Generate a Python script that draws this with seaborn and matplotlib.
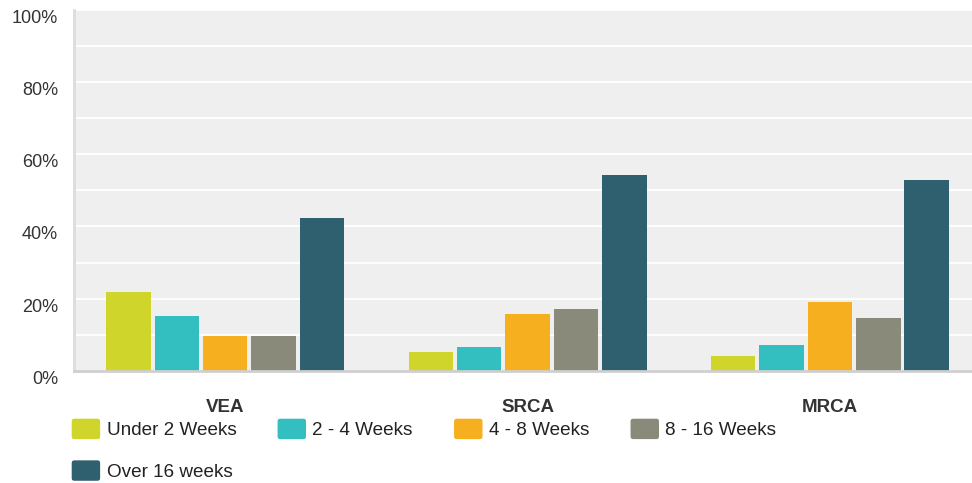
import matplotlib
matplotlib.use("Agg")
import matplotlib.pyplot as plt
from matplotlib.patches import Patch, FancyBboxPatch
from matplotlib.legend_handler import HandlerPatch
from matplotlib.ticker import MultipleLocator, FuncFormatter
import pandas as pd
import seaborn as sns

# Share of responses by waiting time, per survey group (percent)
categories = ["VEA", "SRCA", "MRCA"]
durations = ["Under 2 Weeks", "2 - 4 Weeks", "4 - 8 Weeks", "8 - 16 Weeks", "Over 16 weeks"]
vea = [21.8, 15.2, 9.7, 9.7, 42.3]
srca = [5.2, 6.6, 15.7, 17.1, 54.2]
mrca = [4.1, 7.2, 19.0, 14.6, 52.8]
colors = ["#cfd52a", "#33bec0", "#f6b01f", "#8a8a7a", "#2e6070"]

rows = []
for cat, vals in zip(categories, [vea, srca, mrca]):
    for dur, v in zip(durations, vals):
        rows.append({"group": cat, "duration": dur, "share": v})
df = pd.DataFrame(rows)

sns.set_theme(style="white")
plt.rcParams["font.family"] = ["Liberation Sans", "DejaVu Sans"]

fig = plt.figure(figsize=(9.72, 4.83), dpi=100)
ax = fig.add_axes([74 / 972, 1 - 371 / 483, 1 - 74 / 972, (371 - 9.7) / 483])
ax.set_facecolor("#efefef")

sns.barplot(data=df, x="group", y="share", hue="duration", order=categories,
            hue_order=durations, palette=colors, width=0.8, gap=0.08,
            saturation=1, legend=False, linewidth=0, ax=ax)

ax.set_ylim(0, 100)
ax.set_xlim(-0.5, 2.47)
ax.yaxis.set_major_locator(MultipleLocator(20))
ax.yaxis.set_minor_locator(MultipleLocator(10))
ax.yaxis.set_major_formatter(FuncFormatter(lambda v, p: f"{v:.0f}%"))
ax.grid(axis="y", which="both", color="white", linewidth=1.3)
ax.set_axisbelow(True)
ax.set_xlabel("")
ax.set_ylabel("")

for side in ["top", "right"]:
    ax.spines[side].set_visible(False)
ax.spines["left"].set_color("#dcdcdc")
ax.spines["left"].set_linewidth(2)
ax.spines["bottom"].set_color("#cfcfcf")
ax.spines["bottom"].set_linewidth(2)

ax.tick_params(axis="y", which="both", length=0, pad=11.5, labelsize=13, labelcolor="#333333")
ax.tick_params(axis="x", length=0, pad=20, labelsize=13.5, labelcolor="#333333")
for lbl in ax.get_xticklabels():
    lbl.set_fontweight("bold")
for lbl in ax.get_yticklabels():
    lbl.set_verticalalignment("top")


def rounded_patch(legend, orig_handle, xdescent, ydescent, width, height, fontsize):
    return FancyBboxPatch((-xdescent, -ydescent), width, height,
                          boxstyle="round,pad=0,rounding_size=2.5",
                          facecolor=orig_handle.get_facecolor(), edgecolor="none")


handles = [Patch(facecolor=c, label=d) for c, d in zip(colors, durations)]
# legend fills column by column; order entries so they read across rows
ordered = [handles[0], handles[4], handles[1], handles[2], handles[3]]
fig.legend(handles=ordered, loc="upper left", bbox_to_anchor=(71 / 972, 1 - 418 / 483),
           ncol=4, frameon=False, fontsize=13.6, borderpad=0, borderaxespad=0,
           handlelength=1.58, handleheight=1.4, handletextpad=0.3,
           columnspacing=2.15, labelspacing=1.05, labelcolor="#222222",
           handler_map={Patch: HandlerPatch(patch_func=rounded_patch)})

fig.savefig("out.png", dpi=100)
